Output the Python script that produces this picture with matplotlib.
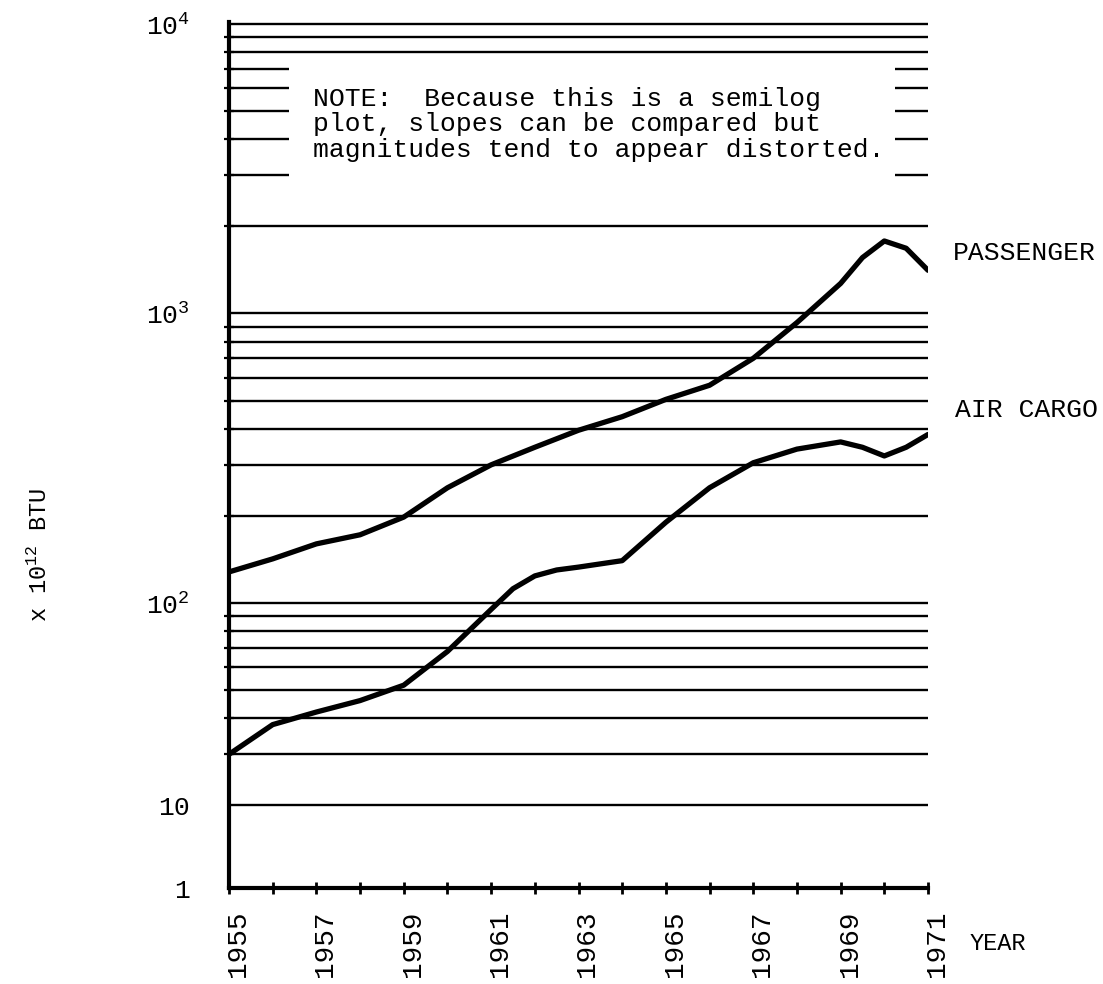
"""
Semilog-Diagramm: Energieverbrauch Luftverkehr (Passagiere / Luftfracht) 1955-1971
"""

import matplotlib.pyplot as plt
import matplotlib.transforms as mtransforms
from matplotlib.ticker import NullFormatter

# Schreibmaschinen-Optik
plt.rcParams['font.family'] = ['Liberation Mono', 'DejaVu Sans Mono']

pass_years = [1955, 1956, 1957, 1958, 1959, 1960, 1961, 1962, 1963, 1964,
              1965, 1966, 1967, 1968, 1969, 1969.5, 1970, 1970.5, 1971]
passenger = [128, 142, 160, 172, 198, 250, 300, 345, 395, 440,
             505, 565, 700, 930, 1270, 1560, 1780, 1680, 1410]

cargo_years = [1955, 1956, 1957, 1958, 1959, 1960, 1961, 1961.5, 1962, 1962.5,
               1963, 1964, 1965, 1966, 1967, 1968, 1969, 1969.5, 1970, 1970.5, 1971]
air_cargo = [30, 38, 42, 46, 52, 68, 95, 112, 124, 130,
             133, 140, 190, 250, 305, 340, 360, 345, 322, 345, 382]

years = list(range(1955, 1972))

# Linien des Logpapiers
full_grid = [20, 30, 40, 50, 60, 70, 80, 90,
             100, 200, 300, 400, 500, 600, 700, 800, 900,
             1000, 2000, 8000, 9000, 10000]
short_grid = [3000, 4000, 5000, 6000, 7000]   # vom Hinweistext unterbrochen

# Beschriftung der y-Achse (so wie im Original gesetzt)
ytick_vals = [10.36, 20, 100, 1000, 10000]
ytick_labels = ['1', '10', r'$\mathregular{10^2}$', r'$\mathregular{10^3}$',
                r'$\mathregular{10^4}$']
year_labels = [str(y) if y % 2 == 1 else '' for y in years]

note_lines = ["NOTE:  Because this is a semilog",
              "plot, slopes can be compared but",
              "magnitudes tend to appear distorted."]

W, H = 1103, 984
fig = plt.figure(figsize=(W / 100, H / 100), dpi=100)
ax = fig.add_axes([229 / W, 1 - 888 / H, (928 - 229) / W, (888 - 22) / H])
ax.set_yscale('log')
ax.set_xlim(1955, 1971)
ax.set_ylim(10.36, 10160)

# Gitterlinien
for v in full_grid:
    ax.hlines(v, 1955, 1971, color='black', lw=1.7)
for v in short_grid:
    ax.hlines(v, 1955, 1956.38, color='black', lw=1.7)
    ax.hlines(v, 1970.24, 1971, color='black', lw=1.7)

# Kurven
ax.plot(pass_years, passenger, color='black', lw=3.8,
        solid_capstyle='round', solid_joinstyle='round')
ax.plot(cargo_years, air_cargo, color='black', lw=3.8,
        solid_capstyle='round', solid_joinstyle='round')

# Achsen
for s in ['top', 'right']:
    ax.spines[s].set_visible(False)
ax.spines['left'].set_linewidth(3)
ax.spines['bottom'].set_linewidth(3)

ax.set_yticks(ytick_vals)
ax.set_yticklabels(ytick_labels)
ax.set_yticks(full_grid + short_grid, minor=True)
ax.yaxis.set_minor_formatter(NullFormatter())
ax.tick_params(axis='y', which='major', length=0, pad=28, labelsize=19)
ax.tick_params(axis='y', which='minor', direction='inout', length=7, width=1.6)

ax.set_xticks(years)
ax.set_xticklabels(year_labels, rotation=90)
ax.tick_params(axis='x', direction='inout', length=9, width=2, pad=12, labelsize=20)
offset = mtransforms.ScaledTranslation(9 / 100, 0, fig.dpi_scale_trans)
for lbl in ax.get_xticklabels():
    lbl.set_transform(lbl.get_transform() + offset)

# Texte
for i, line in enumerate(note_lines):
    fig.text(313 / W, 1 - (99 + 25.5 * i) / H, line, fontsize=19,
             ha='left', va='center')

fig.text(953 / W, 1 - 253 / H, 'PASSENGER', fontsize=19, ha='left', va='center')
fig.text(955 / W, 1 - 410 / H, 'AIR CARGO', fontsize=19, ha='left', va='center')
fig.text(970 / W, 1 - 943 / H, 'YEAR', fontsize=17, ha='left', va='center')
fig.text(40 / W, 1 - 555 / H, r'x $\mathregular{10^{12}}$ BTU', rotation=90,
         fontsize=17, ha='center', va='center')

fig.savefig('out.png', dpi=100)
